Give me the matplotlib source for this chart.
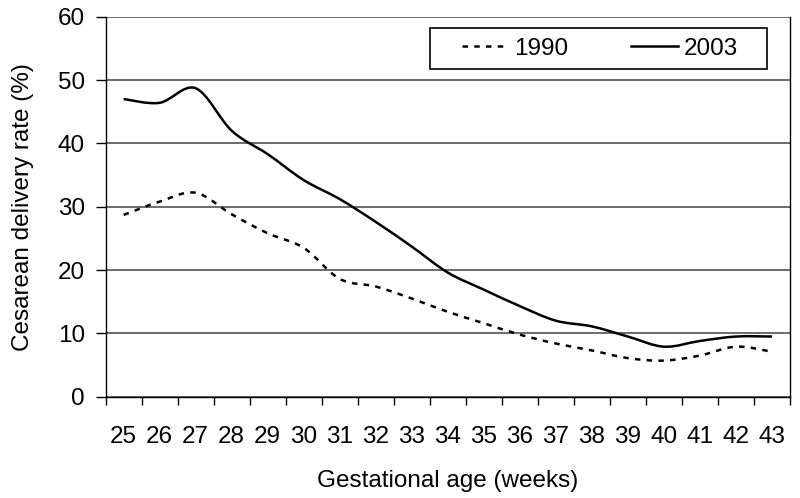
import matplotlib
matplotlib.use("Agg")
import matplotlib.pyplot as plt
from matplotlib.path import Path
from matplotlib.patches import PathPatch, Rectangle
from matplotlib.lines import Line2D
import numpy as np

plt.rcParams['font.family'] = ['Liberation Sans', 'DejaVu Sans']

weeks = [25, 26, 27, 28, 29, 30, 31, 32, 33, 34, 35, 36, 37, 38, 39, 40, 41, 42, 43]
rate_1990 = [28.7, 30.8, 32.2, 28.8, 25.8, 23.5, 18.6, 17.4, 15.5, 13.4, 11.6, 9.8,
             8.4, 7.3, 6.1, 5.7, 6.5, 7.9, 7.1]
rate_2003 = [47.0, 46.4, 48.7, 42.0, 38.3, 34.2, 31.2, 27.6, 23.7, 19.6, 16.9, 14.3,
             12.0, 11.1, 9.5, 7.9, 8.8, 9.5, 9.5]
yticks = [0, 10, 20, 30, 40, 50, 60]
series_labels = ['1990', '2003']

FS = 17.5


def smooth_path(xs, ys):
    """Excel-style smoothed line: cubic Bezier segments through the data points."""
    pts = np.column_stack([xs, ys]).astype(float)
    n = len(pts)
    verts = [pts[0]]
    codes = [Path.MOVETO]
    for i in range(n - 1):
        p0 = pts[i - 1] if i > 0 else pts[i]
        p1 = pts[i]
        p2 = pts[i + 1]
        p3 = pts[i + 2] if i + 2 < n else pts[i + 1]
        c1 = p1 + (p2 - p0) / 6.0
        c2 = p2 - (p3 - p1) / 6.0
        verts += [c1, c2, p2]
        codes += [Path.CURVE4, Path.CURVE4, Path.CURVE4]
    return Path(verts, codes)


fig = plt.figure(figsize=(8, 4.98), dpi=100)
ax = fig.add_axes([0.132, 0.2034, 0.8555, 0.7631])

pos = np.arange(len(weeks))
dash = (0, (2.2, 2.5))
ax.add_patch(PathPatch(smooth_path(pos, rate_1990), fill=False, edgecolor='black',
                       lw=1.8, linestyle=dash, zorder=3))
ax.add_patch(PathPatch(smooth_path(pos, rate_2003), fill=False, edgecolor='black',
                       lw=1.8, zorder=3))

ax.set_xlim(-0.5, len(weeks) - 0.5)
ax.set_ylim(0, 60)
ax.set_yticks(yticks)
ax.yaxis.grid(True, color='#444444', lw=1.1)
ax.set_axisbelow(True)

ax.set_xticks(np.arange(-0.5, len(weeks), 1.0))
ax.set_xticklabels([])
ax.set_xticks(pos, minor=True)
ax.set_xticklabels([str(w) for w in weeks], minor=True)
ax.tick_params(axis='x', which='major', direction='out', length=6, width=1, color='black')
ax.tick_params(axis='x', which='minor', length=0, pad=21, labelsize=FS)
ax.tick_params(axis='y', direction='out', length=7, width=1, labelsize=FS, pad=8)

for s in ['left', 'bottom', 'right']:
    ax.spines[s].set_color('black')
    ax.spines[s].set_linewidth(1.0)
ax.spines['top'].set_visible(False)

ax.set_xlabel('Gestational age (weeks)', fontsize=FS, labelpad=16)
ax.set_ylabel('Cesarean delivery rate (%)', fontsize=FS, labelpad=17)

# legend box
ax.add_patch(Rectangle((0.474, 0.862), 0.492, 0.108, transform=ax.transAxes,
                       facecolor='white', edgecolor='black', lw=1.2, zorder=4))
handles = [Line2D([], [], color='black', lw=1.8, linestyle=dash),
           Line2D([], [], color='black', lw=1.8)]
leg = ax.legend(handles, series_labels, loc='center',
                bbox_to_anchor=(0.521, 0.862, 0.403, 0.108),
                mode='expand', ncol=2, fontsize=FS, frameon=False,
                handlelength=1.9, handletextpad=0.25,
                borderaxespad=0, borderpad=0)
leg.set_zorder(5)

fig.savefig('out.png', dpi=100)
